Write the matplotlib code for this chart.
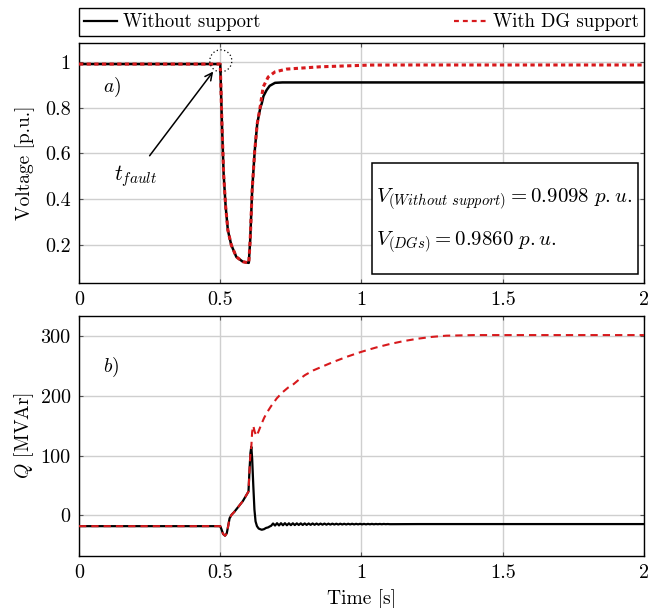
import matplotlib
matplotlib.use("Agg")
import matplotlib.pyplot as plt
from matplotlib.lines import Line2D
from matplotlib.patches import Ellipse, Rectangle

plt.rcParams["font.family"] = "cmr10"
plt.rcParams["mathtext.fontset"] = "cm"
plt.rcParams["axes.formatter.use_mathtext"] = True
plt.rcParams["font.size"] = 14

# voltage, without support
v_black_t = [0.0, 0.500, 0.501, 0.506, 0.512, 0.519, 0.527, 0.539, 0.557, 0.580,
             0.601, 0.606, 0.613, 0.622, 0.631, 0.642, 0.647, 0.653, 0.664, 0.675,
             0.694, 0.72, 2.0]
v_black = [0.99, 0.99, 0.95, 0.73, 0.51, 0.37, 0.265, 0.20, 0.148, 0.127,
           0.122, 0.22, 0.44, 0.61, 0.73, 0.80, 0.818, 0.85, 0.876, 0.895,
           0.908, 0.9098, 0.9098]

# voltage, with DG support
v_red_t = [0.0, 0.500, 0.501, 0.506, 0.512, 0.519, 0.527, 0.539, 0.557, 0.580,
           0.601, 0.606, 0.613, 0.622, 0.631, 0.641, 0.652, 0.670, 0.694, 0.735,
           0.853, 1.03, 1.18, 1.4, 2.0]
v_red = [0.99, 0.99, 0.95, 0.73, 0.51, 0.37, 0.265, 0.20, 0.148, 0.127,
         0.122, 0.22, 0.44, 0.61, 0.73, 0.80, 0.89, 0.934, 0.956, 0.968,
         0.978, 0.9856, 0.986, 0.986, 0.986]

# reactive power, without support
q_black_t = [0.0, 0.500, 0.505, 0.510, 0.517, 0.523, 0.528, 0.533, 0.540, 0.550,
             0.560, 0.570, 0.580, 0.590, 0.600, 0.603, 0.607, 0.610, 0.613, 0.617,
             0.621, 0.625, 0.630, 0.636, 0.641, 0.647, 0.655, 0.662, 0.670, 0.675,
             0.680, 0.687, 0.694, 0.701, 0.708, 0.715, 0.722, 0.729, 0.736, 0.743,
             0.750, 0.757, 0.764, 0.771, 0.778, 0.785, 0.792, 0.799, 0.806, 0.813,
             0.820, 0.827, 0.834, 0.841, 0.848, 0.855, 0.862, 0.869, 0.876, 0.883,
             0.890, 0.897, 0.904, 0.911, 0.918, 0.925, 0.932, 0.939, 0.946, 0.953,
             0.960, 0.967, 0.974, 0.981, 0.988, 0.995, 1.002, 1.009, 1.016, 1.023,
             1.030, 1.037, 1.044, 1.051, 1.058, 1.065, 1.072, 1.079, 1.086, 1.093,
             1.100, 1.2, 1.5, 2.0]
q_black = [-18, -18, -24, -31, -34, -30, -18, -5, 1, 6,
           12, 18, 24, 32, 40, 70, 105, 115, 95, 50,
           10, -10, -18, -22, -23, -24, -23, -21, -20, -18.5,
           -17.5, -13.5, -17, -13, -16.8, -13, -16.5, -13, -16.5, -13.2,
           -16.3, -13.2, -16.2, -13.3, -16, -13.3, -16, -13.4, -15.9, -13.5,
           -15.8, -13.5, -15.7, -13.6, -15.6, -13.7, -15.5, -13.7, -15.5, -13.8,
           -15.4, -13.8, -15.3, -13.9, -15.3, -13.9, -15.2, -14, -15.2, -14,
           -15.1, -14, -15.1, -14.1, -15, -14.1, -15, -14.2, -15, -14.2,
           -14.9, -14.2, -14.9, -14.3, -14.8, -14.3, -14.8, -14.3, -14.7, -14.4,
           -14.7, -14.5, -14.5, -14.5]

# reactive power, with DG support
q_red_t = [0.0, 0.500, 0.505, 0.510, 0.517, 0.523, 0.528, 0.533, 0.540, 0.550,
           0.560, 0.570, 0.580, 0.590, 0.600, 0.603, 0.607, 0.610, 0.613, 0.617,
           0.622, 0.628, 0.635, 0.645, 0.655, 0.665, 0.68, 0.70, 0.72, 0.74,
           0.76, 0.78, 0.80, 0.83, 0.86, 0.90, 0.95, 1.00, 1.05, 1.10,
           1.15, 1.20, 1.25, 1.30, 1.40, 2.0]
q_red = [-18, -18, -24, -31, -34, -30, -18, -5, 1, 6,
         12, 18, 24, 32, 40, 70, 105, 115, 140, 150,
         140, 133, 140, 152, 163, 172, 183, 196, 206, 214,
         220, 228, 235, 243, 249, 257, 266, 274, 281, 287,
         292, 296, 299, 301, 302, 302]

X_TICKS = [0, 0.5, 1, 1.5, 2]
X_TICKLABELS = ["0", "0.5", "1", "1.5", "2"]
V_TICKS = [0.2, 0.4, 0.6, 0.8, 1.0]
V_TICKLABELS = ["0.2", "0.4", "0.6", "0.8", "1"]
Q_TICKS = [0, 100, 200, 300]
Q_TICKLABELS = ["0", "100", "200", "300"]

RED = "#D7191C"

fig = plt.figure(figsize=(6.6, 6.08), dpi=100)
ax1 = fig.add_axes([0.1197, 0.5345, 0.856, 0.3948])
ax2 = fig.add_axes([0.1197, 0.0855, 0.856, 0.3948])

for ax in (ax1, ax2):
    ax.set_xlim(0, 2)
    ax.set_xticks(X_TICKS)
    ax.set_xticklabels(X_TICKLABELS)
    ax.grid(True, color="#CFCFCF", linewidth=1.0)
    ax.set_axisbelow(True)
    ax.tick_params(direction="in", length=3, top=True, right=True, pad=6,
                   labelsize=14.5, color="#555555")
    for sp in ax.spines.values():
        sp.set_linewidth(1.0)

# panel a
ax1.plot(v_black_t, v_black, color="black", linewidth=1.8, zorder=3)
ax1.plot(v_red_t, v_red, color=RED, linewidth=2.2, dashes=(1.4, 1.1), zorder=4)
ax1.set_ylim(0.034, 1.082)
ax1.set_yticks(V_TICKS)
ax1.set_yticklabels(V_TICKLABELS)
ax1.set_ylabel("Voltage [p.u.]", labelpad=7)
ax1.text(0.085, 0.89, r"$a)$", fontsize=14, va="center")
ax1.add_patch(Ellipse((0.502, 1.004), 0.078, 0.096, fill=False,
                      linestyle=(0, (1, 2)), linewidth=0.9, color="black", zorder=5))
ax1.annotate("", xy=(0.481, 0.967), xytext=(0.244, 0.58),
             arrowprops=dict(arrowstyle="->", color="black", lw=1.1,
                             mutation_scale=13))
ax1.text(0.199, 0.50, r"$t_{fault}$", fontsize=15.5, ha="center", va="center")
ax1.add_patch(Rectangle((1.037, 0.075), 0.943, 0.483, fill=True, facecolor="white",
                        edgecolor="black", linewidth=1.1, zorder=6))
ax1.text(1.052, 0.40, r"$V_{(Without\ support)} = 0.9098\ p.u.$", fontsize=15,
         va="center", zorder=7)
ax1.text(1.052, 0.21, r"$V_{(DGs)} = 0.9860\ p.u.$", fontsize=15,
         va="center", zorder=7)

# panel b
ax2.plot(q_black_t, q_black, color="black", linewidth=1.6, zorder=3)
ax2.plot(q_red_t, q_red, color=RED, linewidth=1.5, dashes=(3.5, 2.4), zorder=4)
ax2.set_ylim(-68, 334)
ax2.set_yticks(Q_TICKS)
ax2.set_yticklabels(Q_TICKLABELS)
ax2.set_ylabel(r"$Q$ [MVAr]", labelpad=3)
ax2.set_xlabel("Time [s]", labelpad=5)
ax2.text(0.085, 247, r"$b)$", fontsize=14, va="center")

handles = [
    Line2D([0], [0], color="black", linewidth=1.6, label="Without support"),
    Line2D([0], [0], color=RED, linewidth=1.6, dashes=(2.2, 1.8), label="With DG support"),
]
leg = fig.legend(handles=handles, loc="lower left",
                 bbox_to_anchor=(0.1197, 0.941, 0.856, 0.046), mode="expand",
                 ncol=2, borderaxespad=0, fancybox=False, framealpha=1,
                 edgecolor="black", fontsize=13.5, handlelength=1.8,
                 handletextpad=0.3, borderpad=0.25)
leg.get_frame().set_linewidth(1.0)

fig.savefig("out.png", dpi=100)
